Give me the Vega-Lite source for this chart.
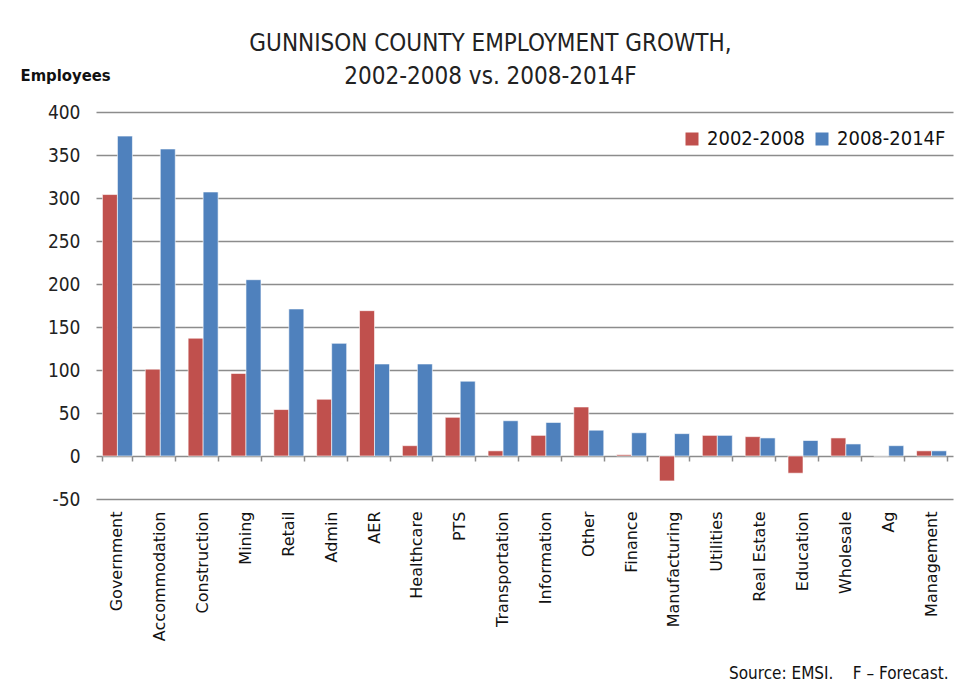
{
  "$schema": "https://vega.github.io/schema/vega-lite/v6.json",
  "autosize": {"type": "none"},
  "width": 857,
  "height": 387,
  "padding": {"left": 96, "top": 112, "right": 19, "bottom": 188},
  "background": "white",
  "title": {
    "text": ["GUNNISON  COUNTY EMPLOYMENT GROWTH,", "2002-2008 vs. 2008-2014F"],
    "anchor": "middle",
    "frame": "group",
    "dx": -34,
    "offset": -22,
    "font": "DejaVu Sans Condensed",
    "fontSize": 24,
    "fontWeight": "normal",
    "color": "#222222",
    "lineHeight": 33
  },
  "data": {
    "values": [
      {"sector": "Government", "period": "2002-2008", "value": 304},
      {"sector": "Government", "period": "2008-2014F", "value": 372},
      {"sector": "Accommodation", "period": "2002-2008", "value": 101},
      {"sector": "Accommodation", "period": "2008-2014F", "value": 357},
      {"sector": "Construction", "period": "2002-2008", "value": 137},
      {"sector": "Construction", "period": "2008-2014F", "value": 307},
      {"sector": "Mining", "period": "2002-2008", "value": 96},
      {"sector": "Mining", "period": "2008-2014F", "value": 205},
      {"sector": "Retail", "period": "2002-2008", "value": 54},
      {"sector": "Retail", "period": "2008-2014F", "value": 171},
      {"sector": "Admin", "period": "2002-2008", "value": 66},
      {"sector": "Admin", "period": "2008-2014F", "value": 131},
      {"sector": "AER", "period": "2002-2008", "value": 169},
      {"sector": "AER", "period": "2008-2014F", "value": 107},
      {"sector": "Healthcare", "period": "2002-2008", "value": 12},
      {"sector": "Healthcare", "period": "2008-2014F", "value": 107},
      {"sector": "PTS", "period": "2002-2008", "value": 45},
      {"sector": "PTS", "period": "2008-2014F", "value": 87},
      {"sector": "Transportation", "period": "2002-2008", "value": 6},
      {"sector": "Transportation", "period": "2008-2014F", "value": 41},
      {"sector": "Information", "period": "2002-2008", "value": 24},
      {"sector": "Information", "period": "2008-2014F", "value": 39},
      {"sector": "Other", "period": "2002-2008", "value": 57},
      {"sector": "Other", "period": "2008-2014F", "value": 30},
      {"sector": "Finance", "period": "2002-2008", "value": 1.5},
      {"sector": "Finance", "period": "2008-2014F", "value": 27},
      {"sector": "Manufacturing", "period": "2002-2008", "value": -29},
      {"sector": "Manufacturing", "period": "2008-2014F", "value": 26},
      {"sector": "Utilities", "period": "2002-2008", "value": 24},
      {"sector": "Utilities", "period": "2008-2014F", "value": 24},
      {"sector": "Real Estate", "period": "2002-2008", "value": 22.5},
      {"sector": "Real Estate", "period": "2008-2014F", "value": 21},
      {"sector": "Education", "period": "2002-2008", "value": -20},
      {"sector": "Education", "period": "2008-2014F", "value": 18},
      {"sector": "Wholesale", "period": "2002-2008", "value": 21},
      {"sector": "Wholesale", "period": "2008-2014F", "value": 14},
      {"sector": "Ag", "period": "2002-2008", "value": 0},
      {"sector": "Ag", "period": "2008-2014F", "value": 12},
      {"sector": "Management", "period": "2002-2008", "value": 6},
      {"sector": "Management", "period": "2008-2014F", "value": 6}
    ]
  },
  "config": {
    "view": {"stroke": null},
    "font": "DejaVu Sans Condensed"
  },
  "resolve": {"axis": {"x": "independent"}},
  "layer": [
    {
      "mark": {"type": "bar", "stroke": "white", "strokeWidth": 0.6},
      "encoding": {
        "x": {
          "field": "sector",
          "type": "nominal",
          "sort": null,
          "scale": {"paddingInner": 0.3, "paddingOuter": 0.15},
          "axis": {
            "orient": "bottom",
            "title": "Source: EMSI.\u00a0\u00a0\u00a0 F – Forecast.",
            "titleAnchor": "end",
            "titleAlign": "right",
            "titleFont": "DejaVu Sans Condensed",
            "titleFontSize": 17,
            "titleFontWeight": "normal",
            "titleColor": "#111111",
            "titleX": 852,
            "titleY": 174,
            "titleBaseline": "middle",
            "labelAngle": -90,
            "labelFont": "DejaVu Sans",
            "labelFontSize": 16,
            "labelColor": "#111111",
            "labelPadding": 12,
            "domain": false,
            "ticks": false
          }
        },
        "xOffset": {"field": "period", "type": "nominal"},
        "y": {
          "field": "value",
          "type": "quantitative",
          "scale": {"domain": [-50, 400], "nice": false},
          "axis": {
            "values": [-50, 0, 50, 100, 150, 200, 250, 300, 350, 400],
            "labelExpr": "replace(datum.label, '−', '-')",
            "title": "Employees",
            "titleAngle": 0,
            "titleFontSize": 16.5,
            "titleFontWeight": "bold",
            "titleColor": "#111111",
            "titleX": -76,
            "titleY": -37,
            "titleAlign": "left",
            "titleBaseline": "middle",
            "labelFontSize": 19,
            "labelColor": "#222222",
            "labelPadding": 16,
            "domain": false,
            "ticks": false,
            "grid": true,
            "gridColor": "#8c8c8c",
            "gridWidth": 1.5
          }
        },
        "color": {
          "field": "period",
          "type": "nominal",
          "scale": {"range": ["#C0504D", "#4F81BD"]},
          "legend": {
            "title": null,
            "orient": "none",
            "legendX": 582,
            "legendY": 13,
            "direction": "horizontal",
            "symbolType": "square",
            "symbolSize": 169,
            "symbolStrokeWidth": 0,
            "labelFontSize": 20,
            "labelColor": "#111111",
            "columnPadding": 6,
            "labelOffset": 5,
            "fillColor": "white",
            "padding": 4
          }
        }
      }
    },
    {
      "mark": {"type": "rule", "color": "#8c8c8c", "strokeWidth": 1.5},
      "encoding": {
        "y": {"datum": 0, "type": "quantitative"},
        "x": {
          "field": "sector",
          "type": "nominal",
          "sort": null,
          "axis": {
            "orient": "bottom",
            "offset": -43,
            "labels": false,
            "title": null,
            "domain": false,
            "ticks": true,
            "tickBand": "extent",
            "tickColor": "#8c8c8c",
            "tickSize": 5,
            "tickWidth": 1.5
          }
        }
      }
    }
  ]
}
